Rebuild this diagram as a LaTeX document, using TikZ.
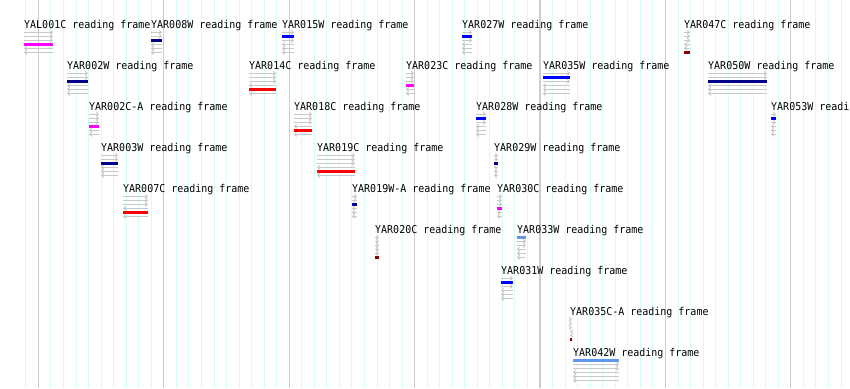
\documentclass[tikz,border=0pt]{standalone}
\usepackage{fontspec}
\newfontfamily\orffont[FakeStretch=0.925]{DejaVu Sans Mono}
\usetikzlibrary{arrows.meta}
\definecolor{gridcyan}{HTML}{D6FBFB}
\definecolor{gridgray}{HTML}{CCCCCC}
\definecolor{framegray}{HTML}{C8C8C8}
\definecolor{orfnavy}{HTML}{00008B}
\definecolor{orfblue}{HTML}{0000FF}
\definecolor{orfmagenta}{HTML}{FF00FF}
\definecolor{orfred}{HTML}{FF0000}
\definecolor{orfdarkred}{HTML}{8B0000}
\definecolor{orfcorn}{HTML}{6495ED}
\begin{document}
\begin{tikzpicture}[x=1pt,y=-1pt,
    orflabel/.style={anchor=base west,inner sep=0pt,font=\orffont\fontsize{10.8}{11}\selectfont},
    framearrow/.style={draw=framegray,line width=1pt,-{Straight Barb[length=2pt,width=4pt]}},
    majorline/.style={draw=gridgray,line width=1.3pt},
    minorline/.style={draw=gridcyan,line width=0.9pt}]
    \fill[white] (0,0) rectangle (850,388);
    \useasboundingbox (0,0) rectangle (850,388);
    \foreach \j in {-1,...,64}
      \draw[minorline] (38.4+12.54*\j,0) -- (38.4+12.54*\j,388);
    \foreach \j in {0,...,6}
      \draw[majorline] (38.4+125.4*\j,0) -- (38.4+125.4*\j,388);
    \foreach \xa/\xb/\r/\s/\c/\n in {24/53/0/3/orfmagenta/YAL001C,
        151/162/0/2/orfnavy/YAR008W, 282/294/0/1/orfblue/YAR015W,
        462/472/0/1/orfblue/YAR027W, 684/690/0/5/orfdarkred/YAR047C,
        67/88/1/2/orfnavy/YAR002W, 249/276/1/4/orfred/YAR014C,
        406/414/1/3/orfmagenta/YAR023C, 543/570/1/1/orfblue/YAR035W,
        708/767/1/2/orfnavy/YAR050W, 89/99/2/3/orfmagenta/YAR002C-A,
        294/312/2/4/orfred/YAR018C, 476/486/2/1/orfblue/YAR028W,
        771/776/2/1/orfblue/YAR053W, 101/118/3/2/orfnavy/YAR003W,
        317/355/3/4/orfred/YAR019C, 494/498/3/2/orfnavy/YAR029W,
        123/148/4/4/orfred/YAR007C, 352/357/4/2/orfnavy/YAR019W-A,
        497/502/4/3/orfmagenta/YAR030C, 375/379/5/5/orfdarkred/YAR020C,
        517/526/5/0/orfcorn/YAR033W, 501/513/6/1/orfblue/YAR031W,
        570/572/7/5/orfdarkred/YAR035C-A, 573/619/8/0/orfcorn/YAR042W}{
      \node[orflabel] (\n) at (\xa,28.3+41*\r) {\n\ reading frame};
      \foreach \i in {0,...,5}{
        \pgfmathsetmacro\yy{32.3+41*\r+4*\i}
        \ifnum\i=\s
          \fill[\c] (\xa,\yy-1.4) rectangle (\xb,\yy+1.4);
        \else\ifnum\i<3
          \draw[framearrow] (\xa,\yy) -- (\xb,\yy);
        \else
          \draw[framearrow] (\xb,\yy) -- (\xa,\yy);
        \fi\fi
      }
    }
  \end{tikzpicture}
\end{document}
